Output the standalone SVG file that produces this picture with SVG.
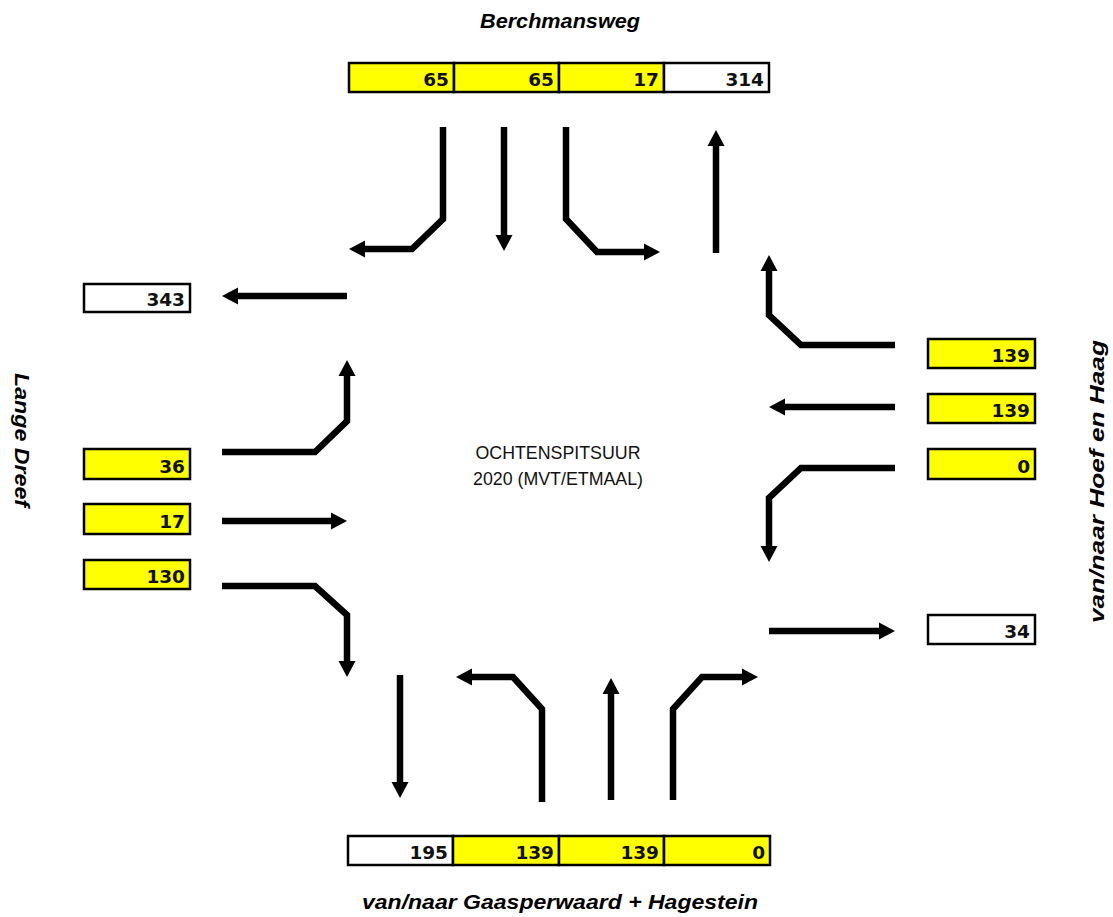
<svg xmlns="http://www.w3.org/2000/svg" width="1113" height="917" viewBox="0 0 1113 917">
<style>
.box{stroke:#000;stroke-width:2.5}
.y{fill:#ffff00}
.w{fill:#fff}
.num{font-family:"DejaVu Sans",Verdana,sans-serif;font-weight:bold;font-size:18.5px;text-anchor:end;fill:#111}
.title{font-family:"Liberation Sans",Arial,sans-serif;font-weight:bold;font-style:italic;font-size:19.5px;fill:#000}
.center{font-family:"Liberation Sans",Arial,sans-serif;font-size:17.8px;text-anchor:middle;fill:#111}
.arr{fill:none;stroke:#000;stroke-width:6.5;stroke-linejoin:miter;marker-end:url(#ah)}
</style>
<defs>
<marker id="ah" markerUnits="userSpaceOnUse" markerWidth="17" markerHeight="18" refX="6" refY="9" orient="auto" viewBox="0 0 17 18">
<path d="M0,0.5 L16,9 L0,17.5 z" fill="#000"/>
</marker>
</defs>
<rect width="1113" height="917" fill="#fff"/>

<g id="connectors">
<path class="arr" d="M443,127 V219 L412,249 H359"/>
<path class="arr" d="M504,127 V241"/>
<path class="arr" d="M566,127 V219 L597,252 H650"/>
<path class="arr" d="M716,253 V140"/>
<path class="arr" d="M347,296 H232"/>
<path class="arr" d="M222,452 H315 L347,421 V370"/>
<path class="arr" d="M222,521 H337"/>
<path class="arr" d="M222,586 H315 L347,615 V667"/>
<path class="arr" d="M895,345 H801 L769,315 V265"/>
<path class="arr" d="M895,407 H779"/>
<path class="arr" d="M895,468 H801 L769,498 V552"/>
<path class="arr" d="M769,631 H885"/>
<path class="arr" d="M400,675 V788"/>
<path class="arr" d="M542,802 V709 L513,677 H466"/>
<path class="arr" d="M611,800 V688"/>
<path class="arr" d="M673,800 V709 L702,677 H748"/>
</g>

<g id="north">
<rect class="box y" x="349" y="63" width="105" height="29"/>
<rect class="box y" x="454" y="63" width="105" height="29"/>
<rect class="box y" x="559" y="63" width="105" height="29"/>
<rect class="box w" x="664" y="63" width="105" height="29"/>
<text class="num" x="449" y="86">65</text>
<text class="num" x="554" y="86">65</text>
<text class="num" x="659" y="86">17</text>
<text class="num" x="764" y="86">314</text>
</g>

<g id="south">
<rect class="box w" x="348" y="836" width="105" height="29"/>
<rect class="box y" x="453" y="836" width="106" height="29"/>
<rect class="box y" x="559" y="836" width="105" height="29"/>
<rect class="box y" x="664" y="836" width="106" height="29"/>
<text class="num" x="448" y="859">195</text>
<text class="num" x="554" y="859">139</text>
<text class="num" x="659" y="859">139</text>
<text class="num" x="765" y="859">0</text>
</g>

<g id="west">
<rect class="box w" x="84" y="284" width="106" height="28"/>
<rect class="box y" x="84" y="449" width="106" height="30"/>
<rect class="box y" x="84" y="504" width="106" height="30"/>
<rect class="box y" x="84" y="560" width="106" height="29"/>
<text class="num" x="185" y="306">343</text>
<text class="num" x="185" y="473">36</text>
<text class="num" x="185" y="528">17</text>
<text class="num" x="185" y="583">130</text>
</g>

<g id="east">
<rect class="box y" x="928" y="339" width="107" height="29"/>
<rect class="box y" x="928" y="394" width="107" height="29"/>
<rect class="box y" x="928" y="449" width="107" height="30"/>
<rect class="box w" x="928" y="615" width="107" height="29"/>
<text class="num" x="1030" y="362">139</text>
<text class="num" x="1030" y="417">139</text>
<text class="num" x="1030" y="473">0</text>
<text class="num" x="1030" y="638">34</text>
</g>

<g id="labels">
<text class="title" x="480" y="28" textLength="160" lengthAdjust="spacingAndGlyphs">Berchmansweg</text>
<text class="title" x="362" y="909" textLength="396" lengthAdjust="spacingAndGlyphs">van/naar Gaasperwaard + Hagestein</text>
<text class="title" transform="translate(15,373) rotate(90)" textLength="134" lengthAdjust="spacingAndGlyphs">Lange Dreef</text>
<text class="title" transform="translate(1104,623) rotate(-90)" textLength="283" lengthAdjust="spacingAndGlyphs">van/naar Hoef en Haag</text>
<text class="center" x="558" y="459">OCHTENSPITSUUR</text>
<text class="center" x="558" y="485">2020 (MVT/ETMAAL)</text>
</g>
</svg>
